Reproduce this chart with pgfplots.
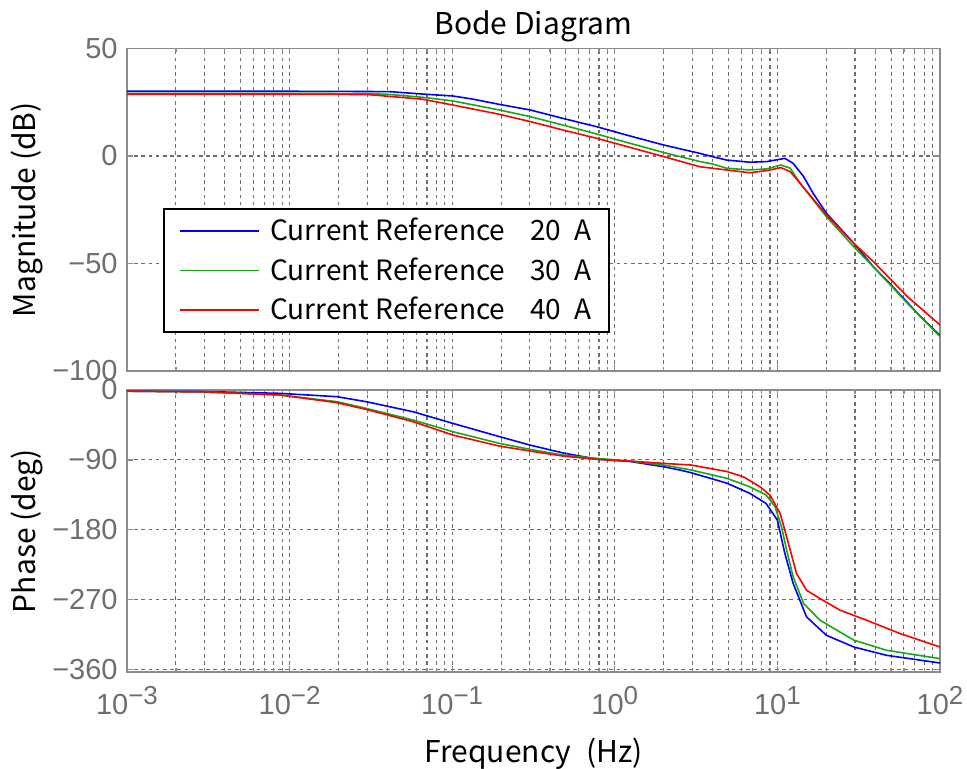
\documentclass[border=0pt]{standalone}
\usepackage{fontspec}
\usepackage{pgfplots}
\pgfplotsset{compat=1.18}
\setmainfont{Liberation Sans}
\newfontfamily\jp{Noto Sans CJK JP}
\newfontfamily\tk{Liberation Sans}
\newcommand{\tkf}{\tk\fontsize{14.5}{14.5}\selectfont}
\definecolor{tickgray}{RGB}{110,110,110}
\definecolor{framegray}{RGB}{140,140,140}
\definecolor{gridgray}{RGB}{110,110,110}
\definecolor{cblue}{RGB}{0,0,255}
\definecolor{cgreen}{RGB}{20,170,20}
\definecolor{cred}{RGB}{255,0,0}
\newcommand{\ex}[1]{{\tkf 10}\raisebox{5pt}{\tk\fontsize{13}{13}\selectfont #1}}
\pgfplotsset{mybode/.style={
  scale only axis, width=406.5pt,
  xmin=0.001, xmax=100,
  xtick={0.001,0.01,0.1,1,10,100},
  axis line style={framegray, line width=0.75pt},
  tick style={framegray, line width=0.6pt},
  tick align=inside, tick pos=both,
  major tick length=3pt, minor tick length=2pt,
  xmajorgrids, xminorgrids, ymajorgrids,
  major grid style={gridgray, dash pattern=on 1.8pt off 1.8pt, line width=0.55pt},
  minor grid style={gridgray, dash pattern=on 1.8pt off 1.8pt, line width=0.55pt},
  /pgf/number format/assume math mode=true,
  tick label style={font=\tkf, text=tickgray, inner sep=0pt},
  yticklabel style={anchor=east, xshift=-4.5pt},
  xticklabel style={anchor=north, yshift=-7pt},
  every axis plot/.append style={line width=0.8pt, no markers},
  ylabel style={at={(axis description cs:-0.123,0.5)}, anchor=center, font=\jp\fontsize{15}{15}\selectfont},
}}
\begin{document}
\begin{tikzpicture}
\begin{semilogxaxis}[mybode, name=mag, at={(0,0)}, anchor=south west, height=161.25pt,
  ymin=-100, ymax=50, ytick={-100,-50,0,50}, yticklabels={{\tkf −100},{\tkf −50},{\tkf 0},{\tkf 50}},
  xticklabels={},
  title={Bode Diagram},
  title style={at={(axis description cs:0.5,1)}, anchor=base, yshift=0.75pt, font=\jp\fontsize{15}{15}\selectfont},
  ylabel={Magnitude (dB)},
  legend style={at={(axis description cs:0.0443,0.505)}, anchor=north west, draw=black, line width=0.75pt,
    fill=white, font=\jp\fontsize{14}{14}\selectfont, inner xsep=7.5pt, inner ysep=3pt,
    row sep=4pt, nodes={inner sep=1.5pt}},
  legend cell align=left,
  legend image code/.code={\draw[#1] (0pt,0pt) -- (39.5pt,0pt);},
]
\addplot[cblue] coordinates {(0.001,30.1)(0.01,30.1)(0.03,30.0)(0.0417,29.9)(0.066,28.8)(0.101,27.9)(0.135,26.4)(0.195,24.0)(0.302,21.4)(0.479,17.5)(0.776,13.6)(1.24,9.3)(2.0,5.1)(3.34,1.2)(3.98,-0.3)(4.88,-1.9)(6.76,-2.9)(8.6,-2.6)(11.1,-1.1)(12.5,-3.4)(14.5,-9.6)(16.6,-17.4)(20,-26.6)(29.5,-40.6)(38.9,-51.5)(49,-59.2)(75.9,-74.7)(100,-83.5)};
\addlegendentry{\hspace{4pt}\makebox[130pt][l]{Current Reference}20\hspace{0.45em}A\hspace{3pt}}
\addplot[cgreen] coordinates {(0.001,29.1)(0.01,29.1)(0.03,29.0)(0.04,28.7)(0.066,27.3)(0.101,25.6)(0.195,21.4)(0.302,18.3)(0.479,14.4)(0.776,10.2)(1.24,5.9)(2.0,1.6)(3.34,-2.6)(3.98,-3.7)(4.88,-5.7)(6.76,-6.5)(8.6,-6.0)(10.5,-4.2)(12.0,-5.7)(13.8,-12.7)(20,-28.2)(29.5,-42.2)(38.9,-51.5)(63,-68.5)(100,-84)};
\addlegendentry{\hspace{4pt}\makebox[130pt][l]{Current Reference}30\hspace{0.45em}A\hspace{3pt}}
\addplot[cred] coordinates {(0.001,28.7)(0.01,28.7)(0.03,28.6)(0.066,26.4)(0.101,23.7)(0.195,19.4)(0.302,16.0)(0.479,12.1)(0.776,8.2)(1.24,4.0)(2.0,-0.3)(3.34,-5.0)(3.98,-5.7)(4.88,-6.5)(6.76,-7.8)(8.6,-6.8)(10.5,-5.4)(12.0,-7.3)(13.8,-12.7)(20,-27.4)(29.5,-40.6)(38.9,-49.1)(63,-65.4)(100,-78.6)};
\addlegendentry{\hspace{4pt}\makebox[130pt][l]{Current Reference}40\hspace{0.45em}A\hspace{3pt}}
\end{semilogxaxis}
\begin{semilogxaxis}[mybode, name=ph, at={(0,-9.5pt)}, anchor=north west, height=141pt,
  ymin=-363, ymax=0, ytick={-360,-270,-180,-90,0}, yticklabels={{\tkf −360},{\tkf −270},{\tkf −180},{\tkf −90},{\tkf 0}},
  xticklabels={\ex{−3},\ex{−2},\ex{−1},\ex{0},\ex{1},\ex{2}},
  ylabel={Phase (deg)},
  xlabel={Frequency\hspace{0.5em}(Hz)},
  xlabel style={at={(axis description cs:0.5,0)}, anchor=base, yshift=-45pt, font=\jp\fontsize{15}{15}\selectfont},
]
\addplot[cblue] coordinates {(0.001,-1.5)(0.003,-2)(0.006,-3.5)(0.0087,-4.3)(0.0195,-8.6)(0.0295,-15)(0.0575,-28)(0.101,-43)(0.195,-60)(0.302,-71)(0.479,-81)(0.776,-89)(1.24,-92)(2.0,-98.8)(2.51,-103)(2.95,-106.5)(4.9,-120)(6.76,-133)(8.51,-146)(10,-167.5)(11.1,-210)(12.5,-249)(15.1,-292)(20,-315.7)(29.5,-330.8)(46.8,-341.5)(100,-351.4)};
\addplot[cgreen] coordinates {(0.001,-1.5)(0.003,-2.5)(0.0087,-6.4)(0.0195,-15)(0.0295,-23.6)(0.0575,-38.7)(0.101,-53.7)(0.195,-68.7)(0.302,-76.5)(0.479,-83.8)(0.776,-88)(1.24,-91.5)(2.0,-96.6)(2.95,-103)(4.9,-113.8)(6.76,-124.6)(8.51,-135)(9.66,-150)(10.6,-176)(11.4,-206)(12.5,-240.6)(14.5,-275)(18.3,-296.4)(29.5,-322)(46.8,-335)(100,-345.8)};
\addplot[cred] coordinates {(0.001,-1.5)(0.003,-2.5)(0.0087,-6.4)(0.0195,-16.3)(0.0295,-24.9)(0.0575,-40.8)(0.101,-58)(0.195,-72.2)(0.302,-78.6)(0.479,-85)(0.776,-89.3)(1.24,-91.5)(2.0,-94.5)(2.95,-96.6)(4.9,-105)(6.17,-111.7)(7.82,-124.6)(9.0,-135.3)(10.4,-159)(11.4,-189)(13.1,-236)(15.1,-257.7)(18.3,-268.5)(24.3,-283.5)(35.4,-296.4)(56.8,-313.5)(100,-330.8)};
\end{semilogxaxis}
\pgfresetboundingbox
\path (-63.5pt,-199pt) rectangle (420pt,185.5pt);
\end{tikzpicture}
\end{document}
